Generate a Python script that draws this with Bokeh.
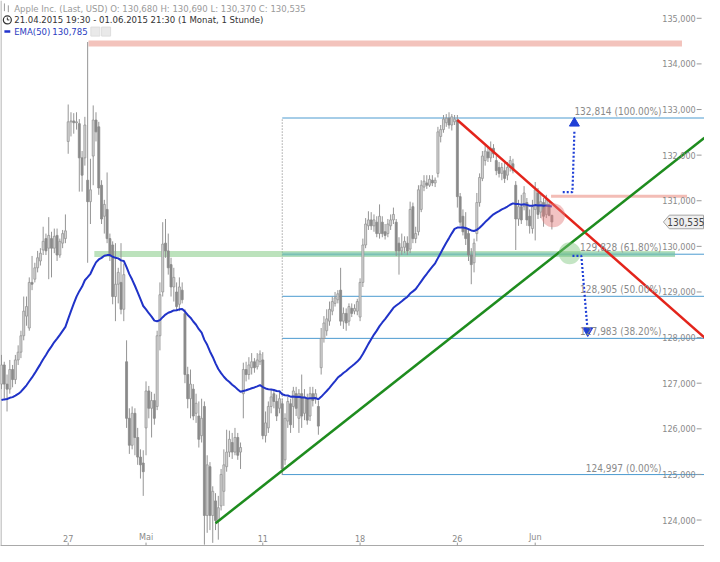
import numpy as np
from bokeh.plotting import figure
from bokeh.models import Range1d
from bokeh.core.properties import value
from bokeh.embed import file_html
from bokeh.resources import INLINE

# ---------------- data (hourly bars, 21.04.2015 19:30 - 01.06.2015 21:30) ----------------
opens = [
    126.98, 127.40, 126.98,
    126.87, 127.30, 127.08, 127.51, 127.68, 128.04, 128.47,
    128.21, 129.21, 129.28, 129.53, 129.68, 129.92, 130.17,
    129.96, 130.17, 129.96, 130.24, 129.81, 130.07, 130.17,
    132.30, 132.73, 132.75, 132.71, 132.69, 131.94, 131.94,
    131.45, 130.98, 131.98, 132.77, 132.62, 131.34, 130.66,
    130.81, 130.17, 130.03, 128.90, 129.17, 129.21, 128.62,
    127.47, 126.23, 125.64, 126.34, 125.81, 125.38, 125.25,
    126.02, 126.83, 126.45, 126.62, 126.49, 128.04, 129.00,
    130.07, 129.90, 129.60, 129.11, 129.00, 128.73, 129.04,
    128.53, 127.19, 126.66, 126.87, 126.34, 126.28, 125.85,
    126.49, 124.10, 125.17, 124.10, 124.42, 123.99, 124.31,
    124.63, 125.17, 125.49, 125.70, 125.49, 125.81, 125.49,
    126.77, 127.30, 127.19, 127.34, 127.47, 127.36, 127.47,
    127.51, 125.85, 126.02, 126.49, 126.77, 126.60, 126.45,
    126.55, 125.32, 126.17, 126.55, 126.49, 126.77, 126.23,
    126.77, 126.34, 126.66, 126.28, 126.77, 126.66, 126.49,
    127.34, 127.98, 128.15, 128.36, 128.58, 128.75, 128.83,
    129.04, 128.36, 128.53, 128.36, 128.64, 128.58, 128.58,
    128.45, 129.21, 130.03, 130.45, 130.58, 130.45, 130.53,
    130.28, 130.53, 130.32, 130.28, 130.45, 130.58, 130.53,
    130.07, 129.90, 129.98, 130.07, 129.94, 130.87, 130.17,
    130.32, 130.81, 131.30, 131.39, 131.34, 131.45, 131.39,
    131.60, 132.41, 132.56, 132.71, 132.81, 132.66, 132.73,
    132.77, 131.09, 130.66, 130.39, 130.28, 129.81, 129.64,
    130.28, 130.96, 131.49, 131.88, 132.07, 131.94, 132.15,
    131.88, 131.73, 131.60, 131.66, 131.56, 131.73, 131.81,
    131.34, 130.60, 130.87, 130.87, 130.96, 130.66, 130.39,
    130.81, 131.17, 130.75, 130.96, 130.70, 130.92, 130.68,
]
closes = [
    127.40, 126.98, 126.87,
    127.30, 127.08, 127.51, 127.68, 128.04, 128.58, 128.68,
    129.21, 129.17, 129.53, 129.75, 129.85, 130.11, 129.90,
    130.24, 129.96, 130.22, 129.81, 130.11, 130.28, 130.34,
    132.73, 132.75, 132.71, 132.73, 131.94, 131.56, 132.66,
    130.98, 131.24, 132.77, 132.51, 131.28, 130.60, 130.92,
    130.17, 129.81, 128.90, 129.17, 129.43, 128.62, 129.38,
    126.23, 125.64, 126.34, 125.81, 125.38, 125.21, 125.06,
    126.83, 126.45, 126.62, 126.23, 128.04, 128.94, 130.05,
    129.90, 129.53, 129.11, 129.32, 128.68, 129.11, 128.83,
    127.19, 126.66, 126.98, 126.28, 126.56, 125.77, 126.23,
    124.10, 125.21, 124.10, 124.63, 123.99, 124.27, 125.00,
    125.21, 125.49, 125.77, 125.49, 125.81, 125.42, 125.59,
    127.30, 127.19, 127.40, 127.47, 127.34, 127.51, 127.64,
    125.85, 126.13, 126.49, 126.70, 126.60, 126.28, 126.66,
    125.12, 126.23, 126.60, 126.09, 126.83, 126.45, 126.77,
    126.28, 126.70, 126.19, 126.77, 126.62, 126.77, 126.06,
    127.98, 128.32, 128.41, 128.62, 128.79, 128.87, 128.96,
    128.36, 128.53, 128.32, 128.68, 128.53, 128.64, 128.79,
    129.21, 130.03, 130.49, 130.58, 130.45, 130.58, 130.28,
    130.66, 130.28, 130.24, 130.49, 130.58, 130.70, 129.90,
    129.90, 129.98, 130.11, 129.90, 130.81, 130.17, 130.28,
    131.24, 131.34, 131.43, 131.34, 131.47, 131.39, 131.45,
    132.51, 132.56, 132.79, 132.81, 132.66, 132.84, 132.79,
    131.09, 130.53, 130.32, 130.17, 129.81, 129.60, 130.07,
    130.96, 131.51, 131.98, 132.09, 131.94, 132.15, 132.03,
    131.66, 131.60, 131.73, 131.49, 131.73, 131.88, 131.66,
    130.60, 130.87, 130.58, 131.17, 130.58, 130.45, 130.87,
    131.24, 130.70, 130.98, 130.66, 131.02, 130.68, 130.535,
]
highs = [
    127.62, 127.47, 127.19,
    127.51, 127.40, 127.62, 127.83, 128.15, 128.90, 128.90,
    129.32, 129.79, 129.64, 129.90, 129.96, 130.43, 130.28,
    130.64, 130.32, 130.39, 130.39, 130.17, 130.36, 130.70,
    133.11, 132.94, 132.92, 132.94, 132.79, 132.09, 132.84,
    134.48, 131.92, 133.09, 132.94, 132.73, 131.45, 131.02,
    131.62, 130.28, 130.11, 130.07, 129.53, 130.07, 129.62,
    127.94, 126.45, 126.49, 126.45, 126.02, 125.55, 125.53,
    127.04, 126.94, 126.81, 126.77, 128.15, 129.21, 130.53,
    130.60, 130.28, 129.75, 129.53, 129.21, 129.32, 129.21,
    128.62, 127.36, 127.30, 126.98, 126.77, 126.60, 126.66,
    126.60, 125.42, 125.27, 124.74, 124.59, 124.53, 125.12,
    125.55, 125.98, 125.96, 125.91, 126.02, 125.91, 125.70,
    127.45, 127.47, 127.57, 127.66, 127.55, 127.66, 127.72,
    127.68, 126.38, 126.60, 126.87, 126.87, 126.75, 126.79,
    126.66, 126.34, 126.70, 126.66, 126.92, 126.92, 126.87,
    127.19, 126.87, 126.77, 126.92, 126.92, 126.87, 126.62,
    128.21, 128.47, 128.62, 128.79, 128.90, 129.00, 129.04,
    129.53, 128.66, 128.64, 128.75, 128.75, 128.73, 128.85,
    129.30, 130.17, 130.62, 130.77, 130.75, 130.70, 130.66,
    130.92, 130.66, 130.49, 130.60, 130.70, 130.85, 130.60,
    130.20, 130.28, 130.22, 130.22, 130.98, 130.96, 130.43,
    131.34, 131.45, 131.56, 131.56, 131.56, 131.56, 131.51,
    132.62, 132.66, 132.88, 132.90, 132.94, 132.90, 132.88,
    132.88, 131.17, 130.81, 130.75, 130.39, 129.96, 130.17,
    131.17, 131.60, 132.09, 132.24, 132.20, 132.30, 132.24,
    131.98, 131.85, 131.83, 131.83, 131.85, 131.98, 131.92,
    131.43, 131.02, 131.13, 131.32, 131.06, 130.81, 131.02,
    131.41, 131.28, 131.13, 131.06, 131.13, 131.02, 130.69,
]
lows = [
    126.87, 126.66, 126.38,
    126.77, 126.91, 126.98, 127.40, 127.55, 127.94, 128.26,
    128.15, 129.04, 129.21, 129.43, 129.58, 129.81, 129.81,
    129.28, 129.32, 129.85, 129.68, 129.75, 129.96, 130.07,
    132.03, 132.41, 132.47, 132.56, 131.20, 131.20, 131.77,
    129.64, 130.49, 131.34, 132.30, 131.13, 130.49, 130.28,
    130.07, 129.68, 128.73, 128.36, 128.75, 128.51, 128.36,
    126.02, 125.45, 125.55, 125.42, 125.21, 124.91, 124.53,
    125.42, 126.23, 125.81, 126.09, 126.41, 127.72, 128.90,
    129.75, 129.38, 128.90, 128.79, 128.58, 128.58, 128.75,
    127.00, 126.45, 126.23, 126.19, 126.13, 125.59, 125.70,
    123.46, 123.72, 123.78, 123.50, 123.78, 123.57, 124.21,
    124.31, 125.06, 125.38, 125.34, 125.42, 125.32, 125.12,
    126.23, 127.04, 127.08, 127.19, 127.23, 127.30, 127.40,
    125.77, 125.70, 125.91, 126.34, 126.45, 126.17, 126.34,
    124.997, 125.21, 126.02, 125.91, 126.02, 126.28, 125.91,
    126.02, 126.19, 126.09, 126.17, 126.49, 126.55, 125.87,
    127.19, 127.89, 128.04, 128.26, 128.49, 128.68, 128.75,
    128.26, 128.19, 128.15, 128.26, 128.45, 128.51, 128.49,
    128.36, 129.11, 129.96, 130.36, 130.36, 130.32, 130.20,
    130.17, 130.20, 130.15, 130.20, 130.36, 130.49, 129.79,
    129.38, 129.81, 129.85, 129.81, 129.85, 130.07, 130.07,
    130.24, 130.75, 131.21, 131.26, 131.30, 131.32, 131.30,
    131.51, 132.28, 132.49, 132.62, 132.58, 132.54, 132.66,
    130.85, 130.45, 130.24, 130.03, 129.68, 129.17, 129.43,
    130.11, 130.87, 131.43, 131.77, 131.85, 131.85, 131.94,
    131.56, 131.51, 131.45, 131.39, 131.45, 131.64, 131.60,
    129.92, 130.45, 130.49, 130.79, 130.45, 130.28, 130.28,
    130.13, 130.60, 130.62, 130.43, 130.62, 130.66, 130.37,
]

ema_period = 50
ema_seed = 126.6          # EMA level at the left edge
ema_label = "130,785"

x_tick_bars = [24, 52, 94, 129, 164, 192]
x_tick_labels = ["27", "Mai", "11", "18", "26", "Jun"]
y_ticks = [124, 125, 126, 127, 128, 129, 130, 131, 132, 133, 134, 135]

fib_start_bar = 101
fib_levels = [124.997, 127.983, 128.905, 129.828, 132.814]
fib_pcts = ["0.00%", "38.20%", "50.00%", "61.80%", "100.00%"]

resist_top_level = 134.45
resist_top_bars = [31.3, 244.8]
support_level = 129.83
support_bars = [33.4, 242.3]
resist_small_level = 131.10
resist_small_bars = [197.7, 246.6]

red_trend_x = [164.0, 252.9]
red_trend_y = [132.77, 128.0]
green_trend_x = [77.0, 252.9]
green_trend_y = [123.93, 132.38]

red_circle_x, red_circle_y = [198.4], [130.68]
green_circle_x, green_circle_y = [204.4], [129.85]
up_arrow_x = [201.9, 205.4, 206.1]
up_arrow_y = [131.19, 131.19, 132.52]
up_tip_x, up_tip_y = [206.1], [132.70]
down_arrow_x = [205.4, 208.6, 210.7]
down_arrow_y = [129.79, 129.79, 128.26]
down_tip_x, down_tip_y = [210.9], [128.15]

# ---------------- figure ----------------
X0, X1 = -0.35, 252.9
Y0, Y1 = 123.42, 135.39
W, H = 704, 546
REF_W, REF_H = 720, 562


def px2x(px):
    return X0 + px / REF_W * (X1 - X0)


def px2y(py):
    return Y1 - py / REF_H * (Y1 - Y0)


FONT = value("'Liberation Sans Narrow', 'Arial Narrow', 'DejaVu Sans Condensed', sans-serif")

p = figure(width=W, height=H, x_range=Range1d(X0, X1), y_range=Range1d(Y0, Y1),
           output_backend="svg", toolbar_location=None, min_border=0,
           x_axis_location=None, y_axis_location=None)
p.grid.visible = False
p.outline_line_color = None
p.background_fill_color = "white"

n = len(closes)
xs = np.arange(n)
o = np.array(opens); c = np.array(closes); h = np.array(highs); l = np.array(lows)

# frame lines
p.line([px2x(0.5), px2x(0.5)], [Y0, Y1], line_color="#9a9a9a", line_width=1)
p.line([X0, X1], [px2y(561), px2y(561)], line_color="#a8a8a8", line_width=1)

# horizontal zones
p.line(resist_top_bars, [resist_top_level] * 2, line_color="#f3c3bc", line_width=6)
p.line(resist_small_bars, [resist_small_level] * 2, line_color="#f3bdb6", line_width=3)

# fibonacci lines
for lv in fib_levels:
    p.line([fib_start_bar, X1], [lv, lv], line_color="#4c9bd0", line_width=1)
p.line([fib_start_bar, fib_start_bar], [fib_levels[0], fib_levels[-1]],
       line_color="#777777", line_width=1, line_dash="1 2")

p.line(support_bars, [support_level] * 2, line_color="#8fcf8f", line_width=6, line_alpha=0.6)
# where the support zone lies on the 61.8% level it appears teal
p.line([fib_start_bar, support_bars[1]], [fib_levels[3]] * 2, line_color="#5fb8c0", line_width=4, line_alpha=0.35)

# candles
inc = c >= o
p.segment(x0=xs, y0=l, x1=xs, y1=h, line_color="#959595", line_width=1)
p.vbar(x=xs[inc], width=0.72, top=c[inc], bottom=o[inc], fill_color="#d6d6d6", line_color="#959595", line_width=0.8)
p.vbar(x=xs[~inc], width=0.72, top=o[~inc], bottom=c[~inc], fill_color="#8a8a8a", line_color="#8a8a8a", line_width=0.8)

# EMA(50)
alpha = 2.0 / (ema_period + 1)
ema = []
e = ema_seed
for v in closes:
    e = e + alpha * (v - e)
    ema.append(e)
p.line(xs, ema, line_color="#2033c8", line_width=2)

# trend lines
p.line(red_trend_x, red_trend_y, line_color="#e3241b", line_width=2.5)
p.line(green_trend_x, green_trend_y, line_color="#1e8c1e", line_width=2.5)

# highlight circles
p.scatter(red_circle_x, red_circle_y, size=24, fill_color="#e27a7a", fill_alpha=0.45, line_color=None)
p.scatter(green_circle_x, green_circle_y, size=22, fill_color="#7cc67c", fill_alpha=0.45, line_color=None)

# dotted arrows
p.line(up_arrow_x, up_arrow_y, line_color="#1f3fd6", line_width=2.2, line_dash="2 2")
p.scatter(up_tip_x, up_tip_y, marker="triangle", size=10, fill_color="#1f3fd6", line_color="#1f3fd6")
p.line(down_arrow_x, down_arrow_y, line_color="#1f3fd6", line_width=2.2, line_dash="2 2")
p.scatter(down_tip_x, down_tip_y, marker="inverted_triangle", size=10, fill_color="#1f3fd6", line_color="#1f3fd6")

# fibonacci labels
fib_text = [f"{lv:.3f}".replace(".", ",") + f" ({pc})" for lv, pc in zip(fib_levels, fib_pcts)]
p.text(x=[px2x(676)] * len(fib_levels), y=fib_levels, text=fib_text, text_align="right",
       text_baseline="bottom", y_offset=-1, text_font=FONT, text_font_size=value("10px"), text_color="#8a8a8a")

# right price scale (drawn inside the plot, as in the reference)
y_tick_text = [f"{t:.3f}".replace(".", ",") for t in y_ticks]
p.text(x=[px2x(711)] * len(y_ticks), y=y_ticks, text=y_tick_text, text_align="right",
       text_baseline="middle", text_font=FONT, text_font_size=value("9px"), text_color="#8a8a8a")
p.segment(x0=[px2x(712)] * len(y_ticks), y0=y_ticks, x1=[px2x(717)] * len(y_ticks), y1=y_ticks,
          line_color="#999999", line_width=1)

# bottom time scale
p.text(x=x_tick_bars, y=[px2y(557)] * len(x_tick_bars), text=x_tick_labels, text_align="center",
       text_baseline="bottom", text_font=FONT, text_font_size=value("9px"), text_color="#8a8a8a")
p.segment(x0=x_tick_bars, y0=[px2y(558)] * len(x_tick_bars), x1=x_tick_bars, y1=[px2y(561)] * len(x_tick_bars),
          line_color="#999999", line_width=1)

# last price tag
last = closes[-1]
hh = 7 * (Y1 - Y0) / REF_H
tag_x = [px2x(678), px2x(684), px2x(719), px2x(719), px2x(684)]
tag_y = [last, last + hh, last + hh, last - hh, last - hh]
p.patch(tag_x, tag_y, fill_color="#efefef", line_color="#a5a5a5", line_width=1)
p.text(x=[px2x(701)], y=[last], text=[f"{last:.3f}".replace(".", ",")], text_align="center",
       text_baseline="middle", text_font=FONT, text_font_size=value("10px"), text_color="#444444")

# legend block
fmt = lambda v: f"{v:.3f}".replace(".", ",")
line1 = (f"Apple Inc. (Last, USD)  O: {fmt(opens[-1])}  H: {fmt(highs[-1])}  "
         f"L: {fmt(lows[-1])}  C: {fmt(closes[-1])}")
line2 = "21.04.2015 19:30 - 01.06.2015 21:30 (1 Monat, 1 Stunde)"
line3a = "EMA(50)"
# icons
p.segment(x0=[px2x(4), px2x(8)], y0=[px2y(3), px2y(5)], x1=[px2x(4), px2x(8)], y1=[px2y(11), px2y(12)],
          line_color="#9a9a9a", line_width=1)
p.scatter([px2x(7)], [px2y(20)], size=8, fill_color=None, line_color="#333333", line_width=1.2)
p.line([px2x(7), px2x(7), px2x(9)], [px2y(17.5), px2y(20), px2y(20)], line_color="#333333", line_width=1)
p.line([px2x(4), px2x(10)], [px2y(32), px2y(32)], line_color="#2233cc", line_width=2.5)
p.scatter([px2x(97), px2x(108)], [px2y(32), px2y(32)], marker="square", size=9,
          fill_color="#e9e9e9", line_color="#dddddd")

p.text(x=[px2x(14)], y=[px2y(8)], text=[line1], text_baseline="middle", text_font=FONT,
       text_font_size=value("9.5px"), text_color="#9a9a9a")
p.text(x=[px2x(14)], y=[px2y(20)], text=[line2], text_baseline="middle", text_font=FONT,
       text_font_size=value("9.5px"), text_color="#333333")
p.text(x=[px2x(14), px2x(53)], y=[px2y(32), px2y(32)], text=[line3a, ema_label], text_baseline="middle",
       text_font=FONT, text_font_size=value("9.5px"), text_color="#2a3cc0")

open("out.html", "w").write(file_html(p, INLINE))
